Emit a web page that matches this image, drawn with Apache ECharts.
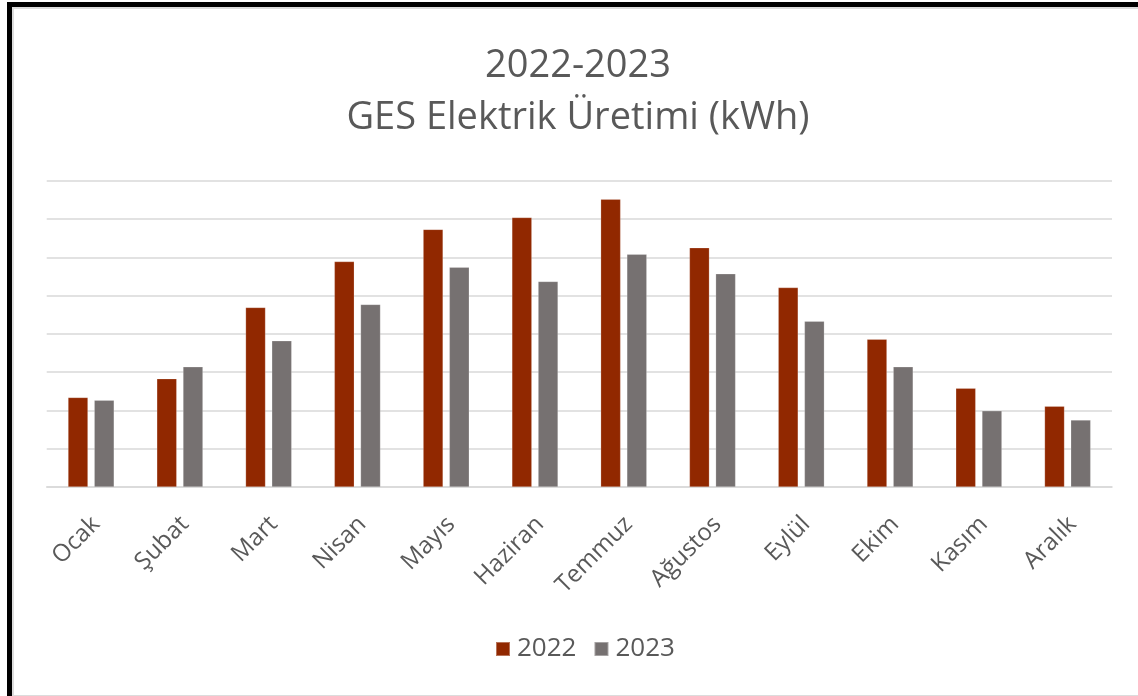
<!DOCTYPE html>
<html>
<head>
<meta charset="utf-8">
<script src="https://cdn.jsdelivr.net/npm/echarts@6/dist/echarts.min.js"></script>
<style>
  html, body { margin: 0; padding: 0; background: #fff; }
  #chart { position: absolute; left: 0; top: 0; width: 1138px; height: 696px; }
  #frame {
    position: absolute; left: 7px; top: 2px; width: 1140px; height: 690px;
    border-left: 5px solid #000; border-top: 5px solid #000; border-bottom: 3px solid #333;
    box-shadow: inset 2px 2px 0 #dcdcdc, inset 0 -2px 0 #dcdcdc;
    pointer-events: none; z-index: 10;
  }
</style>
</head>
<body>
<div id="chart"></div>
<div id="frame"></div>
<script>
const months = ['Ocak', 'Şubat', 'Mart', 'Nisan', 'Mayıs', 'Haziran', 'Temmuz', 'Ağustos', 'Eylül', 'Ekim', 'Kasım', 'Aralık'];
const seriesNames = ['2022', '2023'];
const values2022 = [2340, 2830, 4690, 5890, 6730, 7040, 7520, 6250, 5210, 3860, 2580, 2110];
const values2023 = [2270, 3140, 3820, 4770, 5740, 5370, 6080, 5570, 4330, 3140, 1990, 1750];
const titleLines = ['2022-2023', 'GES Elektrik Üretimi (kWh)'];

const FONT = 'Open Sans';
const chart = echarts.init(document.getElementById('chart'), null, { renderer: 'canvas' });
chart.setOption({
  backgroundColor: '#ffffff',
  animation: false,
  title: {
    text: titleLines.join('\n'),
    left: 573, top: 35, textAlign: 'center',
    textStyle: { fontFamily: FONT, fontSize: 38, fontWeight: 'normal', color: '#595959', lineHeight: 52 }
  },
  legend: {
    data: seriesNames,
    left: 490, top: 631,
    itemWidth: 14, itemHeight: 14, itemGap: 17,
    icon: 'rect',
    textStyle: { fontFamily: FONT, fontSize: 26, color: '#595959', padding: [0, 0, 0, 2] }
  },
  grid: [
    { left: 46.7, right: 26, top: 180.7, bottom: 209, containLabel: false },
    { left: 43.2, right: 29.5, top: 180.7, bottom: 209, containLabel: false }
  ],
  xAxis: [
    {
      type: 'category', gridIndex: 0,
      data: months,
      axisLine: { show: true, lineStyle: { color: '#d9d9d9', width: 1.6 } },
      axisTick: { show: false },
      axisLabel: { show: false }
    },
    {
      type: 'category', gridIndex: 1,
      data: months,
      axisLine: { show: false },
      axisTick: { show: false },
      axisLabel: {
        rotate: 45, interval: 0, margin: 25,
        align: 'right', verticalAlign: 'top',
        fontFamily: FONT, fontSize: 24, color: '#595959'
      }
    }
  ],
  yAxis: [
    {
      type: 'value', gridIndex: 0, min: 0, max: 8000, interval: 1000,
      axisLine: { show: false }, axisTick: { show: false }, axisLabel: { show: false },
      splitLine: { show: true, lineStyle: { color: '#d9d9d9', width: 1.6 } }
    },
    {
      type: 'value', gridIndex: 1, min: 0, max: 8000, interval: 1000, show: false,
      splitLine: { show: false }
    }
  ],
  series: [
    { name: seriesNames[0], type: 'bar', xAxisIndex: 0, yAxisIndex: 0, data: values2022, barWidth: 20, barGap: '31%',
      itemStyle: { color: '#912800', borderColor: 'rgba(255,255,255,0.35)', borderWidth: 0.6 } },
    { name: seriesNames[1], type: 'bar', xAxisIndex: 0, yAxisIndex: 0, data: values2023, barWidth: 20, barGap: '31%',
      itemStyle: { color: '#767171', borderColor: 'rgba(255,255,255,0.35)', borderWidth: 0.6 } }
  ]
});
</script>
</body>
</html>
